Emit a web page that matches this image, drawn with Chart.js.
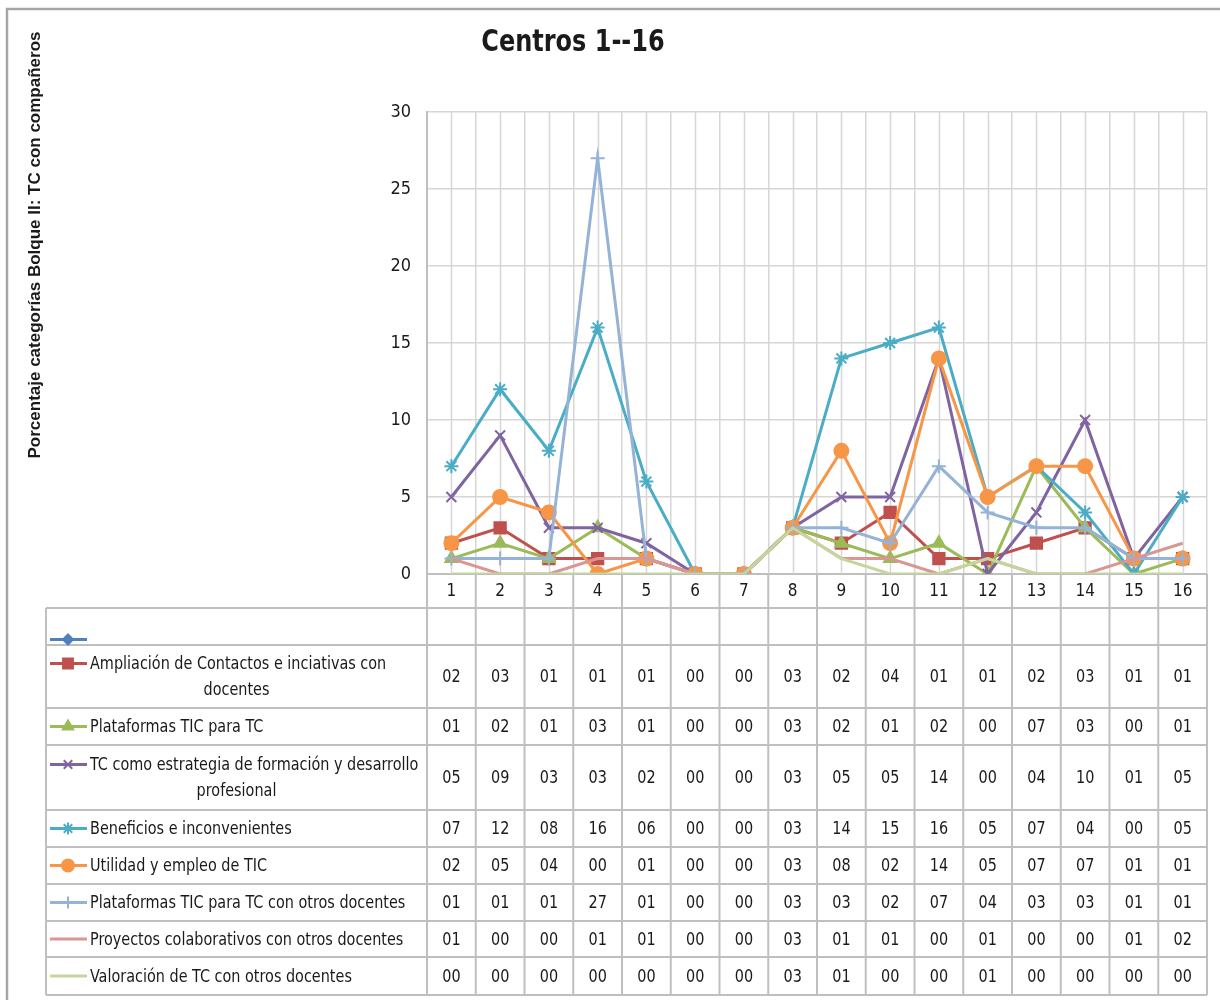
<!DOCTYPE html>
<html>
<head>
<meta charset="utf-8">
<title>Centros 1--16</title>
<script src="https://cdn.jsdelivr.net/npm/chart.js@4.4.1/dist/chart.umd.min.js"></script>
<style>
	body { margin: 0; background: #fff; }
	#wrap { width: 1220px; height: 1000px; }
</style>
</head>
<body>
<div id="wrap"><canvas id="grafico" width="1220" height="1000"></canvas></div>
<script>
var centros = ['1', '2', '3', '4', '5', '6', '7', '8', '9', '10', '11', '12', '13', '14', '15', '16'];

var nombres = [
	'',
	'Ampliación de Contactos e inciativas con docentes',
	'Plataformas TIC para TC',
	'TC como estrategia de formación y desarrollo profesional',
	'Beneficios e inconvenientes',
	'Utilidad y empleo de TIC',
	'Plataformas TIC para TC con otros docentes',
	'Proyectos colaborativos con otros docentes',
	'Valoración de TC con otros docentes'
];

var serieVacia = [null, null, null, null, null, null, null, null, null, null, null, null, null, null, null, null];
var ampliacion = [2, 3, 1, 1, 1, 0, 0, 3, 2, 4, 1, 1, 2, 3, 1, 1];
var plataformas = [1, 2, 1, 3, 1, 0, 0, 3, 2, 1, 2, 0, 7, 3, 0, 1];
var estrategia = [5, 9, 3, 3, 2, 0, 0, 3, 5, 5, 14, 0, 4, 10, 1, 5];
var beneficios = [7, 12, 8, 16, 6, 0, 0, 3, 14, 15, 16, 5, 7, 4, 0, 5];
var utilidad = [2, 5, 4, 0, 1, 0, 0, 3, 8, 2, 14, 5, 7, 7, 1, 1];
var plataformasOtros = [1, 1, 1, 27, 1, 0, 0, 3, 3, 2, 7, 4, 3, 3, 1, 1];
var proyectos = [1, 0, 0, 1, 1, 0, 0, 3, 1, 1, 0, 1, 0, 0, 1, 2];
var valoracion = [0, 0, 0, 0, 0, 0, 0, 3, 1, 0, 0, 1, 0, 0, 0, 0];

var series = [serieVacia, ampliacion, plataformas, estrategia, beneficios, utilidad, plataformasOtros, proyectos, valoracion];
var colores = ['#4F81BD', '#C0504D', '#9BBB59', '#8064A2', '#4BACC6', '#F79646', '#95B3D7', '#DA9694', '#C3D69B'];
var marcas = ['rectRot', 'rect', 'triangle', 'crossRot', 'star', 'circle', 'cross', false, false];
var radios = [6, 8, 7, 7, 7, 7, 7, 0, 0];

var yTicks = [0, 5, 10, 15, 20, 25, 30];

var FUENTE = '"DejaVu Sans Condensed", "Liberation Sans Narrow", sans-serif';
var ESTRECHO = 0.89; // el original tiene el texto algo comprimido en horizontal
var LINEA_TABLA = '#BFBFBF';
var LINEA_REJILLA = '#D6D6D6';

// alturas de las filas de la tabla (cabecera aparte)
var altoCabecera = 34;
var altosFilas = [37, 63, 37, 65, 37, 37, 37, 36, 38];
var tablaIzq = 46;

function dos_cifras(v) {
	if (v === null) return '';
	return String(v).padStart(2, '0');
}

function texto(ctx, t, x, y, align, factor) {
	ctx.save();
	ctx.translate(x, y);
	ctx.scale(factor, 1);
	ctx.textAlign = align;
	ctx.fillText(t, 0, 0);
	ctx.restore();
}

function partir(ctx, t, maximo) {
	var palabras = t.split(' ');
	var lineas = [];
	var actual = '';
	palabras.forEach(function (p) {
		var prueba = actual ? actual + ' ' + p : p;
		if (ctx.measureText(prueba).width * ESTRECHO > maximo && actual) {
			lineas.push(actual);
			actual = p;
		} else {
			actual = prueba;
		}
	});
	if (actual) lineas.push(actual);
	return lineas;
}

var marcoYTitulos = {
	id: 'marcoYTitulos',
	beforeDraw: function (chart) {
		var ctx = chart.ctx;
		ctx.save();
		ctx.fillStyle = '#fff';
		ctx.fillRect(0, 0, chart.width, chart.height);
		ctx.strokeStyle = '#A6A6A6';
		ctx.lineWidth = 2.5;
		ctx.strokeRect(7, 9, chart.width + 20, chart.height + 20);

		ctx.fillStyle = '#1a1a1a';
		ctx.font = 'bold 31px ' + FUENTE;
		ctx.textBaseline = 'middle';
		texto(ctx, 'Centros 1--16', 573, 43, 'center', 0.86);

		ctx.translate(35, 245);
		ctx.rotate(-Math.PI / 2);
		ctx.font = 'bold 17px "Liberation Sans", sans-serif';
		ctx.textAlign = 'center';
		ctx.fillText('Porcentaje categorías Bolque II: TC con compañeros', 0, 0);
		ctx.restore();
	},
	beforeDatasetsDraw: function (chart) {
		// lineas verticales en el centro de cada categoria
		var ctx = chart.ctx;
		var xs = chart.scales.x;
		var area = chart.chartArea;
		ctx.save();
		ctx.strokeStyle = LINEA_REJILLA;
		ctx.lineWidth = 1.5;
		centros.forEach(function (c, i) {
			var x = Math.round(xs.getPixelForValue(i)) + 0.5;
			ctx.beginPath();
			ctx.moveTo(x, area.top);
			ctx.lineTo(x, area.bottom);
			ctx.stroke();
		});
		ctx.restore();
	},
	afterDraw: function (chart) {
		var ctx = chart.ctx;
		var xs = chart.scales.x;
		var ancho = (xs.right - xs.left) / centros.length;
		var arriba = chart.chartArea.bottom;
		var filaTop = arriba + altoCabecera;
		var total = altosFilas.reduce(function (a, b) { return a + b; }, 0);
		var abajo = filaTop + total;

		ctx.save();
		ctx.strokeStyle = LINEA_TABLA;
		ctx.lineWidth = 2;

		// columnas
		for (var i = 0; i <= centros.length; i++) {
			var x = xs.left + i * ancho;
			ctx.beginPath();
			ctx.moveTo(x, arriba);
			ctx.lineTo(x, abajo);
			ctx.stroke();
		}
		ctx.beginPath();
		ctx.moveTo(tablaIzq, filaTop);
		ctx.lineTo(tablaIzq, abajo);
		ctx.stroke();

		// filas
		var y = filaTop;
		ctx.beginPath();
		ctx.moveTo(tablaIzq, y);
		ctx.lineTo(xs.right, y);
		ctx.stroke();
		altosFilas.forEach(function (h) {
			y += h;
			ctx.beginPath();
			ctx.moveTo(tablaIzq, y);
			ctx.lineTo(xs.right, y);
			ctx.stroke();
		});

		// valores y leyenda
		y = filaTop;
		ctx.textBaseline = 'middle';
		series.forEach(function (serie, s) {
			var h = altosFilas[s];
			var centroY = y + h / 2;

			ctx.fillStyle = '#1a1a1a';
			ctx.font = '18px ' + FUENTE;
			serie.forEach(function (v, i) {
				texto(ctx, dos_cifras(v), xs.getPixelForValue(i), centroY + 1, 'center', ESTRECHO);
			});

			var lineas = partir(ctx, nombres[s], 334);
			var paso = 26;
			var primeraY = centroY - (lineas.length - 1) * paso / 2;

			// muestra de la serie
			ctx.strokeStyle = colores[s];
			ctx.fillStyle = colores[s];
			ctx.lineWidth = 3;
			ctx.beginPath();
			ctx.moveTo(50, primeraY);
			ctx.lineTo(87, primeraY);
			ctx.stroke();
			if (marcas[s]) {
				ctx.lineWidth = 2;
				Chart.helpers.drawPoint(ctx, {
					pointStyle: marcas[s],
					radius: radios[s] - 1,
					rotation: 0,
					borderWidth: 2
				}, 68, primeraY);
			}

			ctx.fillStyle = '#1a1a1a';
			lineas.forEach(function (l, k) {
				if (k === 0) {
					texto(ctx, l, 90, primeraY + 1, 'left', ESTRECHO);
				} else {
					texto(ctx, l, (tablaIzq + xs.left) / 2, primeraY + k * paso + 1, 'center', ESTRECHO);
				}
			});
			y += h;
		});
		ctx.restore();
	}
};

function draw() {
	var ctx = document.getElementById('grafico').getContext('2d');

	var datasets = series.map(function (serie, s) {
		return {
			label: nombres[s],
			data: serie,
			borderColor: colores[s],
			backgroundColor: colores[s],
			pointBackgroundColor: colores[s],
			pointBorderColor: colores[s],
			pointStyle: marcas[s],
			pointRadius: radios[s],
			pointBorderWidth: 2,
			borderWidth: 3,
			tension: 0,
			order: -s
		};
	});

	var myChart = new Chart(ctx, {
		type: 'line',
		data: {
			labels: centros,
			datasets: datasets
		},
		options: {
			responsive: false,
			animation: false,
			layout: {
				padding: { left: 20, right: 13, top: 112, bottom: 1000 - 574 - altoCabecera }
			},
			plugins: {
				legend: { display: false },
				tooltip: { enabled: false }
			},
			scales: {
				x: {
					offset: true,
					grid: { color: LINEA_REJILLA, lineWidth: 1.5, drawTicks: false, offset: true },
					border: { color: LINEA_TABLA, width: 2 },
					ticks: {
						color: '#1a1a1a',
						font: { family: FUENTE, size: 17 },
						padding: 7,
						maxRotation: 0,
						autoSkip: false
					},
					afterFit: function (scale) { scale.height = altoCabecera; }
				},
				y: {
					min: 0,
					max: 30,
					afterBuildTicks: function (scale) {
						scale.ticks = yTicks.map(function (v) { return { value: v }; });
					},
					grid: { color: LINEA_REJILLA, lineWidth: 1.5, drawTicks: false },
					border: { color: LINEA_TABLA, width: 2 },
					ticks: {
						color: '#1a1a1a',
						font: { family: FUENTE, size: 18 },
						padding: 16
					},
					afterFit: function (scale) { scale.width = 427 - 20; }
				}
			}
		},
		plugins: [marcoYTitulos]
	});
}

window.onload = function () {
	draw();
};
</script>
</body>
</html>
